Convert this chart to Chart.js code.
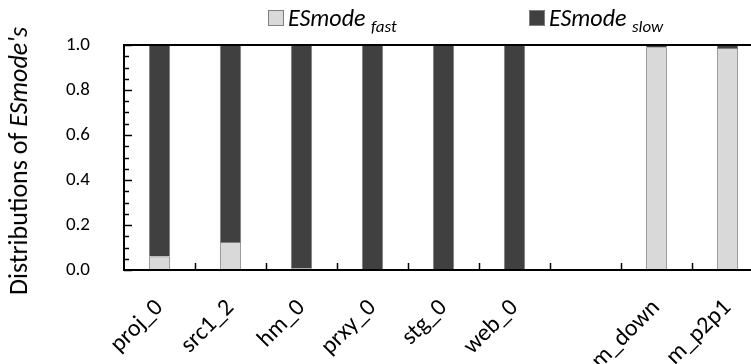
<!DOCTYPE html>
<html>
<head>
<meta charset="utf-8">
<script src="https://cdn.jsdelivr.net/npm/chart.js@4/dist/chart.umd.min.js"></script>
<style>
  html, body { margin: 0; padding: 0; overflow: hidden; background: #fff; }
  body { width: 751px; height: 364px; position: relative; font-family: Carlito, Lato, sans-serif; }
  #wrap { position: absolute; left: 0; top: 0; width: 775px; height: 364px; }
  #ytitle {
    position: absolute; left: 18px; top: 161px; white-space: nowrap;
    transform: translate(-50%, -50%) rotate(-90deg);
    font-size: 26px; color: #000;
  }
  .leg { position: absolute; top: 3px; font-size: 24px; white-space: nowrap; color: #000; }
  .leg .box { display: inline-block; width: 14px; height: 14px; border: 1px solid #7f7f7f; vertical-align: 0px; margin-right: 4px; }
  .leg sub { font-size: 17px; }
</style>
</head>
<body>
<div id="wrap"><canvas id="chart"></canvas></div>
<div id="ytitle">Distributions of <i>ESmode's</i></div>
<div class="leg" style="left:268px"><span class="box" style="background:#d9d9d9"></span><i>ESmode</i> <sub><i>fast</i></sub></div>
<div class="leg" style="left:529px"><span class="box" style="background:#404040"></span><i>ESmode</i> <sub><i>slow</i></sub></div>
<script>
// data
const categories = ['proj_0', 'src1_2', 'hm_0', 'prxy_0', 'stg_0', 'web_0', '', 'm_down', 'm_p2p1'];
const fastShare = [0.06, 0.125, 0.008, 0.003, 0.001, 0, 0, 0.99, 0.987];
const slowShare = [0.94, 0.875, 0.992, 0.997, 0.999, 1, 0, 0.01, 0.013];
const yTicks = [0, 0.2, 0.4, 0.6, 0.8, 1.0];

// frame + inward ticks
const frame = {
  id: 'frame',
  afterDraw(chart) {
    const { ctx, chartArea: a, scales } = chart;
    ctx.save();
    ctx.strokeStyle = '#000';
    ctx.lineWidth = 1.5;
    for (let k = 0; k <= 20; k++) {
      const y = Math.round(scales.y.getPixelForValue(k * 0.05)) + 0.5;
      const len = k % 4 === 0 ? 8 : 5;
      ctx.beginPath(); ctx.moveTo(a.left, y); ctx.lineTo(a.left + len, y); ctx.stroke();
    }
    const n = categories.length;
    const w = (a.right - a.left) / n;
    for (let i = 1; i < n; i++) {
      const x = Math.round(a.left + i * w) + 0.5;
      ctx.beginPath(); ctx.moveTo(x, a.bottom); ctx.lineTo(x, a.bottom - 7); ctx.stroke();
    }
    ctx.lineWidth = 2;
    ctx.strokeRect(a.left, a.top, a.right - a.left, a.bottom - a.top);
    ctx.restore();
  }
};

new Chart(document.getElementById('chart'), {
  type: 'bar',
  data: {
    labels: categories,
    datasets: [
      { label: 'ESmode fast', data: fastShare, backgroundColor: '#d9d9d9', borderColor: '#7f7f7f', borderWidth: 1 },
      { label: 'ESmode slow', data: slowShare, backgroundColor: '#404040', borderColor: '#7f7f7f', borderWidth: 1 }
    ]
  },
  options: {
    responsive: true,
    maintainAspectRatio: false,
    animation: false,
    categoryPercentage: 1,
    barPercentage: 0.3,
    layout: { padding: { top: 45, right: 12, left: 0, bottom: 0 } },
    plugins: { legend: { display: false }, tooltip: { enabled: false } },
    scales: {
      x: {
        stacked: true,
        grid: { display: false },
        border: { display: false },
        afterFit: s => { s.height = 94; },
        ticks: {
          color: '#000', font: { family: 'Carlito, Lato, sans-serif', size: 24 },
          maxRotation: 45, minRotation: 45, padding: 16
        }
      },
      y: {
        stacked: true,
        min: 0, max: 1,
        afterBuildTicks: s => { s.ticks = yTicks.map(v => ({ value: v })); },
        afterFit: s => { s.width = 124; },
        grid: { display: false },
        border: { display: false },
        ticks: {
          color: '#000', font: { family: 'Carlito, Lato, sans-serif', size: 19 }, padding: 26,
          callback: v => v.toFixed(1)
        }
      }
    }
  },
  plugins: [frame]
});
</script>
</body>
</html>
